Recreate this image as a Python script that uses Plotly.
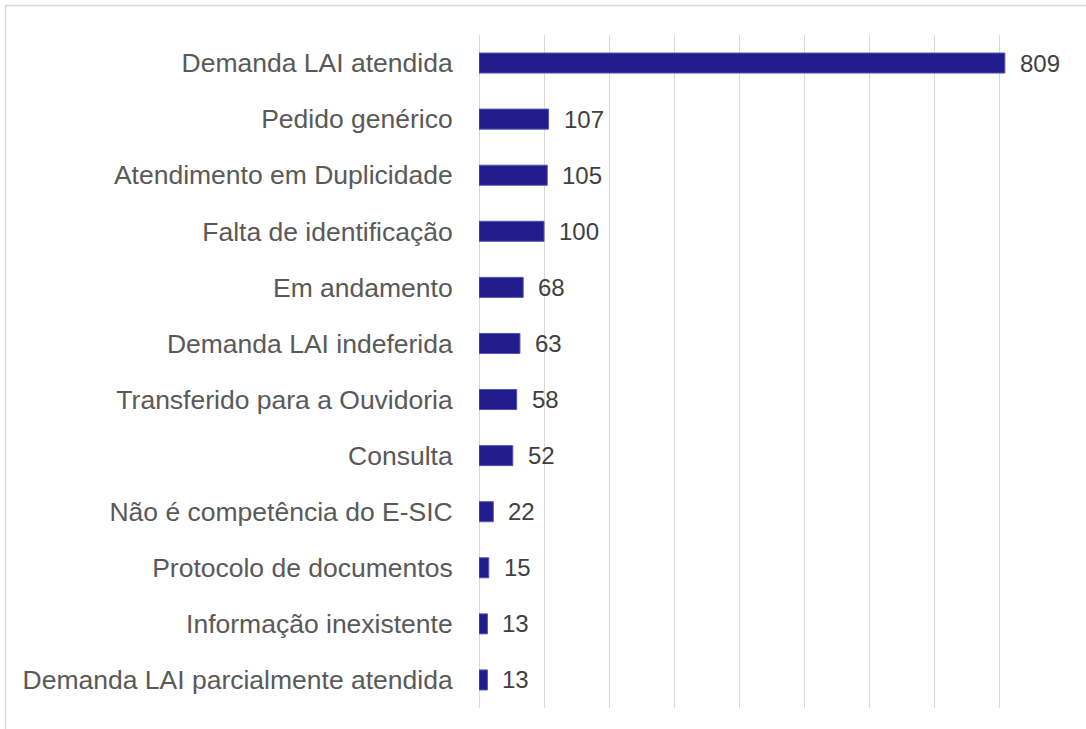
import plotly.graph_objects as go

categories = [
    "Demanda LAI atendida",
    "Pedido genérico",
    "Atendimento em Duplicidade",
    "Falta de identificação",
    "Em andamento",
    "Demanda LAI indeferida",
    "Transferido para a Ouvidoria",
    "Consulta",
    "Não é competência do E-SIC",
    "Protocolo de documentos",
    "Informação inexistente",
    "Demanda LAI parcialmente atendida",
]
values = [809, 107, 105, 100, 68, 63, 58, 52, 22, 15, 13, 13]
x_max = 900
x_step = 100

W, H = 1086, 729
ml, mr, mt, mb = 479, 22, 35, 21
pw, ph = W - ml - mr, H - mt - mb

fig = go.Figure()
fig.add_trace(go.Bar(
    x=values,
    y=categories,
    orientation="h",
    width=0.357,
    marker=dict(color="#201C8D", line=dict(color="#5855B5", width=1)),
    hoverinfo="x+y",
))

annotations = []
for c, v in zip(categories, values):
    annotations.append(dict(
        x=v, y=c, xref="x", yref="y", text=str(v), showarrow=False,
        xanchor="left", yanchor="middle", xshift=13,
        font=dict(family="Liberation Sans, Arial, sans-serif", size=24, color="#404040"),
    ))

def px_x(p):
    return (p - ml) / pw

def px_y(p):
    return (H - mb - p) / ph

fig.update_layout(
    width=W, height=H,
    margin=dict(l=ml, r=mr, t=mt, b=mb, pad=0),
    paper_bgcolor="white",
    plot_bgcolor="white",
    showlegend=False,
    annotations=annotations,
    shapes=[dict(
        type="rect", xref="paper", yref="paper",
        x0=px_x(5.5), x1=px_x(1095), y0=px_y(740), y1=px_y(5.5),
        line=dict(color="#D9D9D9", width=1.5), fillcolor="rgba(0,0,0,0)", layer="below",
    )],
    xaxis=dict(
        range=[0, x_max], dtick=x_step, tick0=0,
        showgrid=True, gridcolor="#D9D9D9", gridwidth=1.3,
        zeroline=True, zerolinecolor="#D9D9D9", zerolinewidth=1.3,
        showticklabels=False, showline=False, fixedrange=True,
    ),
    yaxis=dict(
        categoryorder="array", categoryarray=categories[::-1],
        showgrid=False, showline=False, zeroline=False,
        ticks="outside", ticklen=20, tickcolor="rgba(0,0,0,0)",
        tickfont=dict(family="Liberation Sans, Arial, sans-serif", size=26.5, color="#595959"),
        fixedrange=True,
    ),
)

fig.write_html(
    "out.html",
    config={"displayModeBar": False},
    post_script="document.body.style.margin='0';document.body.style.overflow='hidden';",
)
